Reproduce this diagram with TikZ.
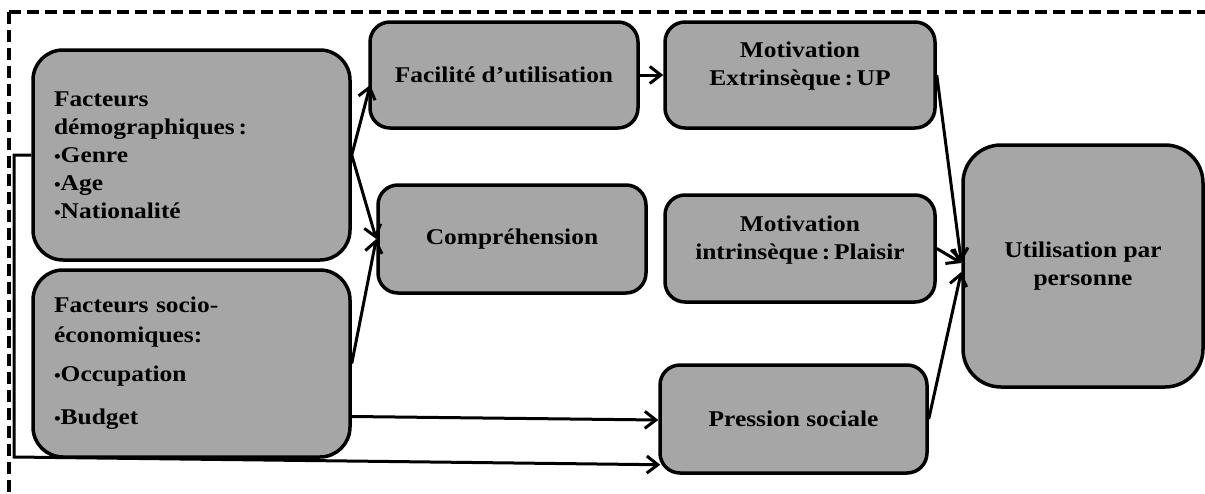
\documentclass[tikz,border=0pt]{standalone}
\usepackage{fontspec}
\newfontfamily\boxfont{Liberation Serif}[FakeStretch=1.13]
\usetikzlibrary{arrows.meta,calc}
\definecolor{boxgray}{RGB}{166,166,166}
\newcommand{\bul}{{\fontsize{17}{28}\selectfont•}}
\tikzset{
  box/.style={draw=black, line width=3.5pt, fill=boxgray, rounded corners=20pt,
    align=center, inner sep=4pt,
    font=\boxfont\bfseries\fontsize{22.5}{28}\selectfont},
  bigbox/.style={box, rounded corners=30pt, align=left, inner xsep=21pt},
  conn/.style={line width=3pt},
  arr/.style={conn, -{Straight Barb[length=11pt,width=17pt]}},
  frame/.style={line width=3.5pt, dash pattern=on 12pt off 6pt},
}
\begin{document}
\begin{tikzpicture}[x=1pt,y=-1pt]
\useasboundingbox (0,0) rectangle (1205,493);
% dashed frame
\draw[frame] (9,12) -- (1205,12);
\draw[frame] (9,12) -- (9,493);
% boxes
\node[bigbox, text width=275pt, minimum height=210pt] (demo) at (191.5,155)
  {Facteurs\\démographiques\,:\\\bul Genre\\\bul Age\\\bul Nationalité};
\node[bigbox, text width=275pt, minimum height=187pt] (socio) at (191.5,363.5)
  {Facteurs socio-\\[2pt]économiques:\\[11pt]\bul Occupation\\[15pt]\bul Budget};
\node[box, minimum width=268pt, minimum height=106pt] (fac) at (504,75)
  {Facilité d’utilisation};
\node[box, minimum width=268pt, minimum height=108pt] (comp) at (512,239)
  {Compréhension};
\node[box, minimum width=270pt, minimum height=106pt] (ext) at (800,75)
  {Motivation\\Extrinsèque\,:\,UP\\[-6pt]\mbox{}};
\node[box, minimum width=270pt, minimum height=107pt] (int) at (800,248.5)
  {Motivation\\intrinsèque\,:\,Plaisir\\[-6pt]\mbox{}};
\node[box, minimum width=267pt, minimum height=108pt] (ps) at (793.5,419)
  {Pression sociale};
\node[box, rounded corners=38pt, minimum width=240pt, minimum height=242pt] (util) at (1083,266)
  {Utilisation par\\personne};
% connectors
\coordinate (lt) at (14,155);
\coordinate (lb) at (14,457);
\draw[arr] (demo.west) -- (lt) -- (lb) -- ($(ps.south west)+(2,-10)$);
\draw[arr] ($(socio.east)+(0,53)$) -- ($(ps.west)+(0,1)$);
\draw[arr] (demo.east) -- ($(fac.west)+(2,10)$);
\draw[arr] (demo.east) -- (comp.west);
\draw[arr] (socio.east) -- (comp.west);
\draw[arr] (fac.east) -- (ext.west);
\draw[arr] (ext.east) -- ($(util.west)+(0,-4)$);
\draw[arr] (int.east) -- ($(util.west)+(0,-3)$);
\draw[arr] (ps.east) -- ($(util.west)+(0,6)$);
\end{tikzpicture}
\end{document}
